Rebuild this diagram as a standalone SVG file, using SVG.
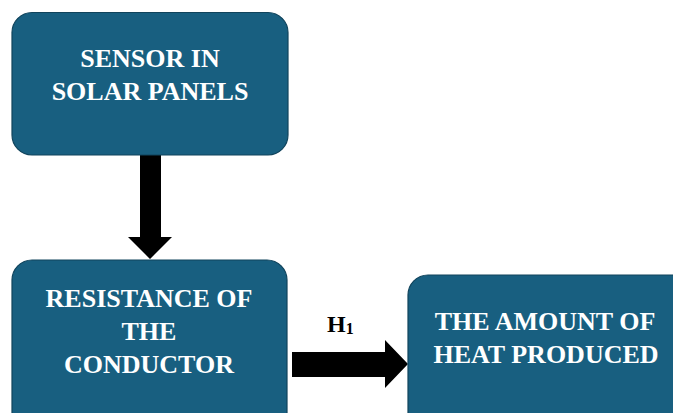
<svg xmlns="http://www.w3.org/2000/svg" width="673" height="413" viewBox="0 0 673 413">
<style>
.box{fill:#185f80;stroke:#11445c;stroke-width:1.2}
.lbl{font-family:"Liberation Serif","Times New Roman",serif;font-weight:bold;font-size:26px;fill:#ffffff;text-anchor:middle}
.arr{fill:#000000}
.h{font-family:"Liberation Serif","Times New Roman",serif;font-weight:bold;fill:#000000}
</style>
<rect width="673" height="413" fill="#ffffff"/>
<g id="connectors">
<polygon class="arr" points="140,155 161,155 161,237 172,237 150,259 128,237 140,237"/>
<polygon class="arr" points="292,352 385,352 385,340 408,364 385,388 385,377 292,377"/>
<text class="h" x="327" y="332" font-size="24">H<tspan font-size="16" dy="2">1</tspan></text>
</g>
<g id="node-sensor">
<rect class="box" x="12" y="12.5" width="276" height="142.5" rx="20"/>
<text class="lbl" x="150" y="67">SENSOR IN</text>
<text class="lbl" x="150" y="100">SOLAR PANELS</text>
</g>
<g id="node-resistance">
<rect class="box" x="12" y="260" width="275" height="175" rx="20"/>
<text class="lbl" x="149" y="307">RESISTANCE OF</text>
<text class="lbl" x="149" y="340">THE</text>
<text class="lbl" x="149" y="373">CONDUCTOR</text>
</g>
<g id="node-heat">
<rect class="box" x="408" y="275" width="290" height="160" rx="20"/>
<text class="lbl" x="545" y="330">THE AMOUNT OF</text>
<text class="lbl" x="546" y="363">HEAT PRODUCED</text>
</g>
</svg>
